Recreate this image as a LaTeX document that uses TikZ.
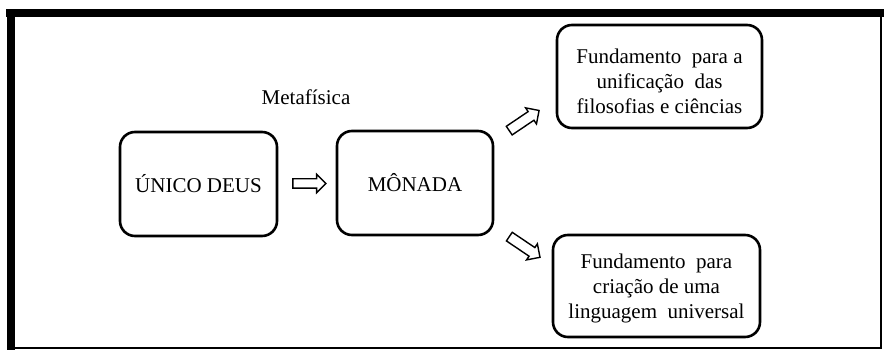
\documentclass[tikz,border=0pt]{standalone}
\usepackage{fontspec}
\setmainfont{Liberation Serif}
\usetikzlibrary{shapes.arrows,calc}
\tikzset{
  box/.style={draw, line width=2.6pt, rounded corners=15pt, align=center, inner sep=0pt,
    font=\fontsize{21}{25}\selectfont},
  txt/.style={align=center, inner sep=0pt, font=\fontsize{21}{25}\selectfont},
  harrow/.style={draw, single arrow, line width=1.4pt, minimum height=33pt,
    inner xsep=0pt, inner ysep=4pt, single arrow head extend=4.5pt, single arrow head indent=0pt},
  frame/.style={line width=8pt},
  thinframe/.style={line width=2pt}
}
\begin{document}
\begin{tikzpicture}[x=1pt,y=-1pt]
\useasboundingbox (0,0) rectangle (884,350);
% frame
\draw[frame] (6,13.5) -- (884,13.5);
\draw[frame] (10.5,10) -- (10.5,350);
\draw[thinframe] (881,17) -- (881,348) -- (14,348);
% boxes
\node[box, minimum width=157pt, minimum height=104pt] (deus) at (198.5,184) {ÚNICO DEUS};
\node[box, minimum width=156pt, minimum height=104pt] (monada) at (415,183) {MÔNADA};
\node[box, minimum width=205pt, minimum height=103pt] (uni) at (659.5,76.5) {};
\node[txt] (unit) at ($(uni.center)+(0,5)$)
  {Fundamento\ \ para a\\unificação\ \ das\\filosofias e ciências};
\node[box, minimum width=207pt, minimum height=102pt] (ling) at (656.5,286) {};
\node[txt] (lingt) at ($(ling.center)+(0,2)$)
  {Fundamento\ \ para\\criação de uma\\linguagem\ \ universal};
% label
\node[txt] (meta) at (306,97) {Metafísica};
% arrows
\node[harrow] (a1) at ($(deus.east)!0.5!(monada.west)$) {};
\node[harrow, rotate=34, minimum height=36pt, inner ysep=4.5pt] (a2) at (522,122) {};
\node[harrow, rotate=-34, minimum height=37pt, inner ysep=4.5pt] (a3) at (522.5,245.5) {};
\end{tikzpicture}
\end{document}
